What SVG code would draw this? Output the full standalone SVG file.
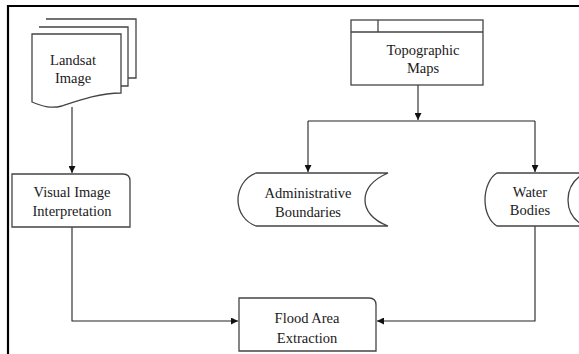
<svg xmlns="http://www.w3.org/2000/svg" width="579" height="354" viewBox="0 0 579 354">
<defs>
<marker id="ah" viewBox="0 0 10 10" refX="10" refY="5" markerWidth="7" markerHeight="7" markerUnits="userSpaceOnUse" orient="auto">
<path d="M0,0 L10,5 L0,10 Z" fill="#111"/>
</marker>
<style>
.shape{fill:#fff;stroke:#444;stroke-width:1.3}
.line{fill:none;stroke:#222;stroke-width:1.1}
.t{font-family:"Liberation Serif","Times New Roman",serif;font-size:14.5px;fill:#1a1a1a;text-anchor:middle}
</style>
</defs>
<rect x="0" y="0" width="579" height="354" fill="#fff"/>
<path d="M8,354 V6 H579" fill="none" stroke="#000" stroke-width="2.2"/>
<g id="connectors">
<path class="line" d="M72,107 V173" marker-end="url(#ah)"/>
<path class="line" d="M418,85 V120" marker-end="url(#ah)"/>
<path class="line" d="M308,121 H535"/>
<path class="line" d="M308,121 V172" marker-end="url(#ah)"/>
<path class="line" d="M535,121 V172" marker-end="url(#ah)"/>
<path class="line" d="M72,227 V321 H238" marker-end="url(#ah)"/>
<path class="line" d="M535,226 V321 H377" marker-end="url(#ah)"/>
</g>
<g id="landsat">
<path class="shape" d="M46,19 H136 V78 H128"/>
<path class="shape" d="M39,27 H128 V86 H121"/>
<path class="shape" d="M32,34 H121 V93 C100,93 80,100 62,106 C50,109 42,106 32,102 Z"/>
<text class="t" x="73" y="65">Landsat</text>
<text class="t" x="73" y="83">Image</text>
</g>
<g id="topographic">
<rect class="shape" x="351" y="20" width="132" height="65"/>
<path class="shape" d="M351,32 H483 M378,20 V32"/>
<text class="t" x="423" y="55">Topographic</text>
<text class="t" x="423" y="73">Maps</text>
</g>
<g id="visual">
<path class="shape" d="M12,174 H123 Q130,174 130,181 V227 H12 Z"/>
<text class="t" x="72" y="197">Visual Image</text>
<text class="t" x="72" y="216">Interpretation</text>
</g>
<g id="admin">
<path class="shape" d="M256,173 H388 C372,180 365,190 365,200 C365,210 372,220 388,226 H256 C245,222 238,212 238,200 C238,188 245,177 256,173 Z"/>
<text class="t" x="308" y="198">Administrative</text>
<text class="t" x="308" y="217">Boundaries</text>
</g>
<g id="water">
<path class="shape" d="M497,173 H585 C572,180 568,190 568,200 C568,210 572,220 585,226 H497 C490,222 485,212 485,200 C485,188 490,177 497,173 Z"/>
<text class="t" x="530" y="197">Water</text>
<text class="t" x="530" y="215">Bodies</text>
</g>
<g id="flood">
<path class="shape" d="M239,298 H369 Q376,298 376,305 V351 H239 Z"/>
<text class="t" x="307" y="323">Flood Area</text>
<text class="t" x="307" y="343">Extraction</text>
</g>
</svg>
